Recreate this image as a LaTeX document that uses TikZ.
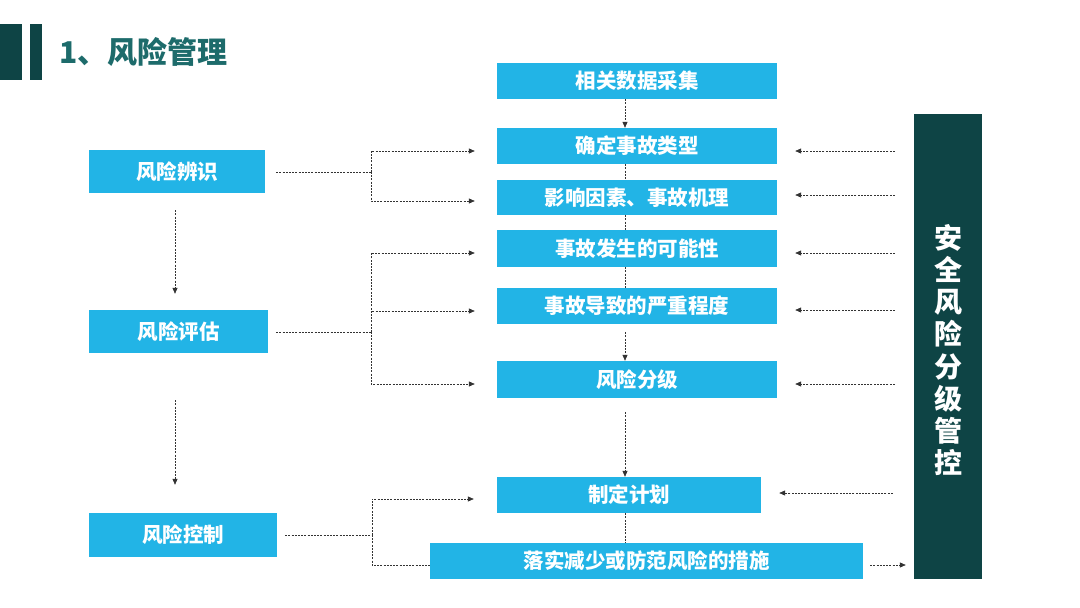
\documentclass[tikz,border=0pt]{standalone}
\usepackage{fontspec}
\newfontfamily\cjk{Noto Sans CJK SC}
\usetikzlibrary{arrows.meta,calc}
\definecolor{boxblue}{HTML}{22B4E6}
\definecolor{darkteal}{HTML}{0E4445}
\definecolor{titleteal}{HTML}{1D6B6B}
\definecolor{linegray}{HTML}{333333}
\tikzset{
  box/.style={fill=boxblue, text=white, inner sep=0pt, font=\cjk\bfseries\fontsize{20.5}{20.5}\selectfont},
  dl/.style={draw=linegray, line width=0.75pt, dash pattern=on 2pt off 1.2pt},
  da/.style={dl, -{Triangle[length=6pt,width=5pt]}},
}
\begin{document}
\begin{tikzpicture}[x=1pt,y=-1pt]
\useasboundingbox (0,0) rectangle (1080,608);
% title bars
\fill[darkteal] (0,24) rectangle (22,80);
\fill[darkteal] (30,24) rectangle (42,80);
\node[anchor=west, inner sep=0pt, text=titleteal, font=\cjk\bfseries\fontsize{30}{30}\selectfont] (title) at (59,52) {1、风险管理};

% left boxes
\node[box, minimum width=176, minimum height=43] (r1) at (177,171.5) {风险辨识};
\node[box, minimum width=179, minimum height=43] (r2) at (178.5,331.5) {风险评估};
\node[box, minimum width=188, minimum height=44] (r3) at (183,535) {风险控制};

% center boxes
\node[box, minimum width=280, minimum height=36] (c0) at (637,81) {相关数据采集};
\node[box, minimum width=280, minimum height=36] (c1) at (637,146) {确定事故类型};
\node[box, minimum width=280, minimum height=35] (c2) at (637,197.5) {影响因素、事故机理};
\node[box, minimum width=280, minimum height=37] (c3) at (637,248.5) {事故发生的可能性};
\node[box, minimum width=280, minimum height=36] (c4) at (637,306) {事故导致的严重程度};
\node[box, minimum width=280, minimum height=37] (c5) at (637,379.5) {风险分级};
\node[box, minimum width=264, minimum height=36] (c6) at (629,495) {制定计划};
\node[box, minimum width=433, minimum height=36] (c7) at (646.5,561) {落实减少或防范风险的措施};

% right bar
\node[fill=darkteal, minimum width=68, minimum height=465, inner sep=0pt] (bar) at (948,346.5) {};
\node[text=white, align=center, inner sep=0pt, font=\cjk\bfseries\fontsize{28}{32.2}\selectfont] (bartext) at (948,350) {安\\全\\风\\险\\分\\级\\管\\控};

% center column connectors
\draw[da] ($(c0.south)+(-12,0)$) -- ($(c1.north)+(-12,0)$);
\draw[dl] ($(c1.south)+(-12,0)$) -- ($(c2.north)+(-12,0)$);
\draw[dl] ($(c2.south)+(-12,0)$) -- ($(c3.north)+(-12,0)$);
\draw[dl] ($(c3.south)+(-12,0)$) -- ($(c4.north)+(-12,0)$);
\draw[da] ($(c4.south)+(-12,8)$) -- ($(c5.north)+(-12,0)$);
\draw[da] ($(c5.south)+(-12,14)$) -- ($(c6.north)+(-4,0)$);
\draw[dl] ($(c6.south)+(-4,0)$) -- ($(c7.north)+(-21.5,0)$);

% left column connectors
\draw[da] ($(r1.south)+(-2,17)$) -- ($(r2.north)+(-3.5,-16)$);
\draw[da] ($(r2.south)+(-3.5,47)$) -- ($(r3.north)+(-8,-28)$);

% junctions
\coordinate (j1) at (371,172);
\coordinate (j2) at (371,332);
\coordinate (j3) at (372,535);

% risk identification branch
\draw[dl] ($(r1.east)+(11,0.5)$) -- (j1);
\draw[da] (j1) |- ($(c1.west)+(-22,5)$);
\draw[da] (j1) |- ($(c2.west)+(-22,3.5)$);

% risk assessment branch
\draw[dl] ($(r2.east)+(8,0.5)$) -- (j2);
\draw[da] (j2) |- ($(c3.west)+(-22,4.5)$);
\draw[da] (j2) |- ($(c4.west)+(-22,5)$);
\draw[da] (j2) |- ($(c5.west)+(-22,4.5)$);

% risk control branch
\draw[dl] ($(r3.east)+(8,0)$) -- (j3);
\draw[da] (j3) |- ($(c6.west)+(-23,4)$);
\draw[dl] (j3) |- ($(c7.west)+(0,4)$);

% right-side arrows from the bar
\draw[da] ($(bar.west |- c1.west)+(-19,5)$) -- ($(c1.east)+(18,5)$);
\draw[da] ($(bar.west |- c2.west)+(-19,-2.5)$) -- ($(c2.east)+(18,-2.5)$);
\draw[da] ($(bar.west |- c3.west)+(-19,4.5)$) -- ($(c3.east)+(18,4.5)$);
\draw[da] ($(bar.west |- c4.west)+(-19,4)$) -- ($(c4.east)+(18,4)$);
\draw[da] ($(bar.west |- c5.west)+(-19,4.5)$) -- ($(c5.east)+(18,4.5)$);
\draw[da] ($(bar.west |- c6.west)+(-21,-2)$) -- ($(c6.east)+(18,-2)$);
\draw[da] ($(c7.east)+(7,4)$) -- ($(bar.west |- c7.east)+(-8,4)$);
\end{tikzpicture}
\end{document}
